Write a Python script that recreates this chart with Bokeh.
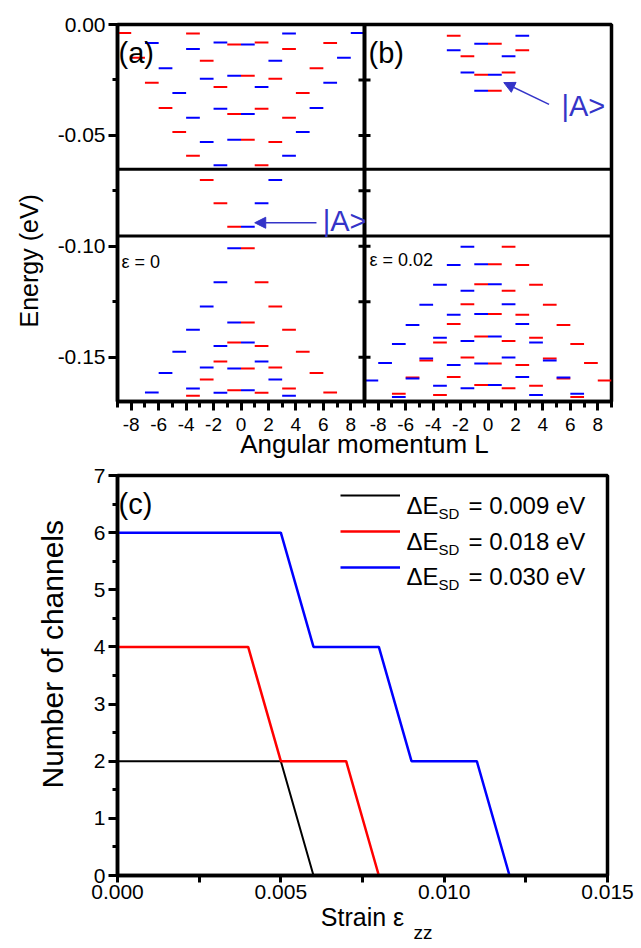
import numpy as np
from bokeh.plotting import figure
from bokeh.models import (Span, Label, Arrow, NormalHead, FixedTicker, CustomJSTickFormatter,
                          NumeralTickFormatter, Legend, LegendItem, Range1d, Title)
from bokeh.layouts import column
from bokeh.embed import file_html
from bokeh.resources import INLINE

FONT = "Liberation Sans"
RED = "#ff0000"
BLUE = "#0000ff"
ACOL = "#3434c8"

# ---------------- data ----------------
# panel (a): strain 0 -- levels (angular momentum L, energy in eV)
a_blue_L = [8.5, 3.5, -6.5, -1.5, 0.5, -3.5, 7.5, 2.5, -5.5, -0.5, -2.5, 6.5, 1.5, -4.5, 5.5,
            -1.5, 0.5, -3.5, 4.5, -0.5, -2.5, 3.5, -1.5, 2.5, 1.5, 0.5,
            -0.5, -1.5, -2.5, -0.5, -3.5, 0.5, -1.5, -4.5, 1.5, -2.5, -0.5, -5.5, 2.5, -3.5,
            0.5, -6.5, -1.5, 3.5]
a_blue_E = [-0.0038, -0.0041, -0.0083, -0.0081, -0.0090, -0.0111, -0.0150, -0.0164, -0.0197,
            -0.0231, -0.0245, -0.0263, -0.0282, -0.0309, -0.0376, -0.0380, -0.0404, -0.0421,
            -0.0485, -0.0520, -0.0530, -0.0592, -0.0635, -0.0701, -0.0806, -0.0912,
            -0.1009, -0.1162, -0.1272, -0.1344, -0.1376, -0.1434, -0.1450, -0.1476, -0.1520,
            -0.1547, -0.1551, -0.1571, -0.1601, -0.1641, -0.1649, -0.1659, -0.1661, -0.1674]
a_red_L = [-8.5, -3.5, 6.5, 1.5, -0.5, 3.5, -7.5, -2.5, 5.5, 0.5, 2.5, -6.5, -1.5, 4.5, -5.5,
           1.5, -0.5, 3.5, -4.5, 0.5, 2.5, -3.5, 1.5, -2.5, -1.5, -0.5,
           0.5, 1.5, 2.5, 0.5, 3.5, -0.5, 1.5, 4.5, -1.5, 2.5, 0.5, 5.5, -2.5, 3.5,
           -0.5, 6.5, 1.5, -3.5]
a_red_E = [-0.0038, -0.0041, -0.0083, -0.0081, -0.0090, -0.0111, -0.0150, -0.0164, -0.0197,
           -0.0231, -0.0245, -0.0263, -0.0282, -0.0309, -0.0376, -0.0380, -0.0404, -0.0421,
           -0.0485, -0.0520, -0.0530, -0.0592, -0.0635, -0.0701, -0.0806, -0.0912,
           -0.1009, -0.1162, -0.1272, -0.1344, -0.1376, -0.1434, -0.1450, -0.1476, -0.1520,
           -0.1547, -0.1551, -0.1571, -0.1601, -0.1641, -0.1649, -0.1659, -0.1661, -0.1674]

# panel (b): strain 0.02
b_blue_L = [2.5, -0.5, -2.5, 1.5, -1.5, 0.5, -0.5,
            -1.5, -2.5, -0.5, -3.5, 0.5, -1.5, -4.5, 1.5, -2.5, -0.5, 2.5, -5.5, -3.5, 3.5,
            -1.5, 0.5, -6.5, -7.5, -4.5, 4.5, -2.5, 1.5, -0.5, -8.5, 5.5, -5.5, 2.5, -3.5,
            -1.5, 0.5, 6.5, -6.5, 3.5]
b_blue_E = [-0.0051, -0.0087, -0.0116, -0.0143, -0.0216, -0.0227, -0.0299,
            -0.1002, -0.1084, -0.1081, -0.1173, -0.1171, -0.1201, -0.1264, -0.1261, -0.1309,
            -0.1305, -0.1350, -0.1355, -0.1412, -0.1434, -0.1427, -0.1407, -0.1441, -0.1526,
            -0.1506, -0.1515, -0.1535, -0.1502, -0.1529, -0.1605, -0.1592, -0.1596, -0.1590,
            -0.1629, -0.1640, -0.1626, -0.1665, -0.1680, -0.1671]
b_red_L = [-2.5, 0.5, 2.5, -1.5, 1.5, -0.5, 0.5,
           1.5, 2.5, 0.5, 3.5, -0.5, 1.5, 4.5, -1.5, 2.5, 0.5, -2.5, 5.5, 3.5, -3.5,
           1.5, -0.5, 6.5, 7.5, 4.5, -4.5, 2.5, -1.5, 0.5, 8.5, -5.5, 5.5, -2.5, 3.5,
           1.5, -0.5, -6.5, 6.5, -3.5]
b_red_E = list(b_blue_E)

# band-gap boundaries (eV)
gap_edges = [-0.0653, -0.0954]

# energy axis ticks
E_major = [0.0, -0.05, -0.10, -0.15]
E_minor = [-0.025, -0.075, -0.125]

# panel (c): number of channels vs strain
strain_009 = [0.0, 0.005, 0.006, 0.015]
chan_009 = [2, 2, 0, 0]
strain_018 = [0.0, 0.004, 0.005, 0.007, 0.008, 0.015]
chan_018 = [4, 4, 2, 2, 0, 0]
strain_030 = [0.0, 0.005, 0.006, 0.008, 0.009, 0.011, 0.012, 0.015]
chan_030 = [6, 6, 4, 4, 2, 2, 0, 0]
legend_values = ["0.009", "0.018", "0.030"]

# ---------------- helpers ----------------
SHIFT_B = 18.0  # panel (b) is drawn to the right of panel (a) on a shared axis
DIVIDER = 9.0


def style_axis(ax, size, tick_out=9, minor_out=5, standoff=4):
    ax.axis_line_width = 3.5
    ax.axis_line_color = "black"
    ax.major_tick_in = 0
    ax.major_tick_out = tick_out
    ax.minor_tick_in = 0
    ax.minor_tick_out = minor_out
    ax.major_tick_line_width = 3
    ax.minor_tick_line_width = 3
    ax.major_tick_line_color = "black"
    ax.minor_tick_line_color = "black"
    ax.major_label_text_font = FONT
    ax.major_label_text_font_size = f"{size}px"
    ax.major_label_text_color = "black"
    ax.major_label_standoff = standoff
    ax.axis_label_text_font = FONT
    ax.axis_label_text_font_style = "normal"
    ax.axis_label_text_color = "black"


def add_label(fig, text, x, y, size, color="black", align="left", baseline="alphabetic",
              units="screen"):
    fig.add_layout(Label(x=x, y=y, x_units=units, y_units=units, text=text,
                         text_font=FONT, text_font_size=f"{size}px", text_color=color,
                         text_align=align, text_baseline=baseline))


def side_title(fig, text, side, size, offset, standoff, valign):
    fig.add_layout(Title(text=text, align="left", vertical_align=valign, offset=offset,
                         standoff=standoff, text_font=FONT, text_font_size=f"{size}px",
                         text_font_style="normal", text_color="black"), side)


def draw_levels(fig, L, E, shift, color):
    Lx = np.asarray(L, dtype=float) + shift
    fig.segment(x0=Lx - 0.5, x1=Lx + 0.5, y0=E, y1=E, line_color=color, line_width=2)


# ---------------- top figure: panels (a) and (b) ----------------
top = figure(frame_width=494, frame_height=377, x_range=Range1d(-9, 27),
             y_range=Range1d(-0.17, 0.0), output_backend="svg", toolbar_location=None,
             min_border_left=116, min_border_right=25, min_border_top=24,
             min_border_bottom=63)
top.grid.visible = False
top.outline_line_color = "black"
top.outline_line_width = 3.5

draw_levels(top, a_red_L, a_red_E, 0.0, RED)
draw_levels(top, a_blue_L, a_blue_E, 0.0, BLUE)
draw_levels(top, b_red_L, b_red_E, SHIFT_B, RED)
draw_levels(top, b_blue_L, b_blue_E, SHIFT_B, BLUE)

for e in gap_edges:
    top.add_layout(Span(location=e, dimension="width", line_color="black", line_width=3))
top.add_layout(Span(location=DIVIDER, dimension="height", line_color="black", line_width=4))
# tick marks of panel (b)'s energy axis on the shared divider
div_ticks = E_major[1:] + E_minor
top.scatter(x=[DIVIDER] * len(div_ticks), y=div_ticks, marker="dash", size=12,
            line_color="black", line_width=3)

major_L = [-8, -6, -4, -2, 0, 2, 4, 6, 8]
minor_L = [-9, -7, -5, -3, -1, 1, 3, 5, 7, 9]
top.xaxis.ticker = FixedTicker(ticks=major_L + [t + SHIFT_B for t in major_L],
                               minor_ticks=minor_L + [t + SHIFT_B for t in minor_L])
top.xaxis.formatter = CustomJSTickFormatter(code="return String(tick > 9 ? tick - 18 : tick);")
top.yaxis.ticker = FixedTicker(ticks=E_major, minor_ticks=E_minor)
top.yaxis.formatter = NumeralTickFormatter(format="0.00")
style_axis(top.xaxis[0], 19, tick_out=9, minor_out=6, standoff=7)
style_axis(top.yaxis[0], 21, tick_out=9, minor_out=5, standoff=3)
top.xaxis.axis_label = "Angular momentum L"
top.xaxis.axis_label_text_font_size = "26px"
top.xaxis.axis_label_standoff = -5
side_title(top, "Energy (eV)", "left", 25, offset=74, standoff=24, valign="bottom")

# arrows to |A>
top.add_layout(Arrow(end=NormalHead(size=11, fill_color=ACOL, line_color=ACOL, line_width=1),
                     x_start=5.5, y_start=-0.0894, x_end=1.0, y_end=-0.0894,
                     line_color=ACOL, line_width=1.5))
top.add_layout(Arrow(end=NormalHead(size=11, fill_color=ACOL, line_color=ACOL, line_width=1),
                     x_start=4.45 + SHIFT_B, y_start=-0.0360, x_end=1.15 + SHIFT_B,
                     y_end=-0.0262, line_color=ACOL, line_width=1.5))
add_label(top, "|A>", 5.95, -0.0888, 29, color=ACOL, baseline="middle", units="data")
add_label(top, "|A>", 5.35 + SHIFT_B, -0.0366, 29, color=ACOL, baseline="middle", units="data")

# panel tags and strain labels (frame-relative pixels)
add_label(top, "(a)", 1, 349, 29, baseline="middle")
add_label(top, "(b)", 251, 349, 29, baseline="middle")
add_label(top, "\u03b5 = 0", 4, 140, 18, baseline="middle")
add_label(top, "\u03b5 = 0.02", 252, 142, 18, baseline="middle")

# ---------------- bottom figure: panel (c) ----------------
bot = figure(frame_width=490, frame_height=400, x_range=Range1d(0, 0.015),
             y_range=Range1d(0, 7), output_backend="svg", toolbar_location=None,
             min_border_left=115, min_border_right=30, min_border_top=11,
             min_border_bottom=72)
bot.grid.visible = False
bot.outline_line_color = "black"
bot.outline_line_width = 3.5

r1 = bot.line(strain_009, chan_009, line_color="black", line_width=2)
r2 = bot.line(strain_018, chan_018, line_color=RED, line_width=2.5)
r3 = bot.line(strain_030, chan_030, line_color=BLUE, line_width=2.5)

bot.xaxis.ticker = FixedTicker(ticks=[0.0, 0.005, 0.010, 0.015],
                               minor_ticks=[0.0025, 0.0075, 0.0125])
bot.xaxis.formatter = NumeralTickFormatter(format="0.000")
bot.yaxis.ticker = FixedTicker(ticks=[0, 1, 2, 3, 4, 5, 6, 7],
                               minor_ticks=[0.5, 1.5, 2.5, 3.5, 4.5, 5.5, 6.5])
style_axis(bot.xaxis[0], 21, tick_out=7, minor_out=7, standoff=2)
style_axis(bot.yaxis[0], 21, tick_out=9, minor_out=5, standoff=3)
bot.xaxis.axis_label = "Strain \u03b5"
bot.xaxis.axis_label_text_font_size = "25px"
bot.xaxis.axis_label_standoff = 1
side_title(bot, "zz", "below", 19, offset=296, standoff=-23, valign="top")
side_title(bot, "Number of channels", "left", 30, offset=87, standoff=43, valign="bottom")
add_label(bot, "(c)", 1, 372, 29, baseline="middle")

legend = Legend(items=[LegendItem(label=" ", renderers=[r1]),
                       LegendItem(label=" ", renderers=[r2]),
                       LegendItem(label=" ", renderers=[r3])],
                location=(223, 290), orientation="vertical", glyph_width=60,
                glyph_height=36, label_height=36, label_width=0, label_standoff=0,
                spacing=0, padding=0, margin=0, border_line_alpha=0,
                background_fill_alpha=0)
bot.add_layout(legend)
for i, txt in enumerate(legend_values):
    base = 370 - i * 35.5
    add_label(bot, "\u0394E", 289, base, 24)
    add_label(bot, "SD", 321, base - 8.3, 15)
    add_label(bot, "= " + txt + " eV", 351, base, 24)

layout = column(top, bot)
open("out.html", "w").write(file_html(layout, INLINE))
